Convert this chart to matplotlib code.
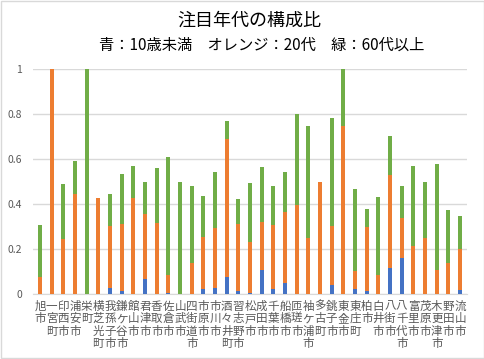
import matplotlib
matplotlib.use("Agg")
import matplotlib.pyplot as plt
from matplotlib.patches import Rectangle
import numpy as np

plt.rcParams["font.family"] = ["Noto Sans CJK JP", "DejaVu Sans"]

cities = [
    "旭市", "一宮町", "印西市", "浦安市", "栄町", "横芝光町", "我孫子市", "鎌ケ谷市",
    "館山市", "君津市", "香取市", "佐倉市", "山武市", "四街道市", "市原市", "市川市",
    "酒々井町", "習志野市", "松戸市", "成田市", "千葉市", "船橋市", "匝瑳市", "袖ケ浦市",
    "多古町", "銚子市", "東金市", "東庄町", "柏市", "白井市", "八街市", "八千代市",
    "富里市", "茂原市", "木更津市", "野田市", "流山市",
]
# cumulative tops
blue_top = [0, 0, 0, 0, 0, 0, 0.027, 0.013, 0, 0.067, 0, 0.004, 0, 0, 0.022, 0.027,
            0.076, 0.013, 0.004, 0.107, 0.022, 0.049, 0, 0, 0, 0.04, 0, 0.022, 0.013,
            0, 0.116, 0.16, 0, 0, 0, 0, 0.018]
orange_top = [0.076, 1.0, 0.244, 0.446, 0, 0.428, 0.304, 0.313, 0.428, 0.357, 0.314, 0.084,
              0, 0.136, 0.253, 0.293, 0.689, 0.313, 0.233, 0.32, 0.307, 0.364, 0.396, 0.249,
              0.498, 0.304, 0.747, 0.102, 0.298, 0.084, 0.529, 0.338, 0.215, 0.249, 0.107,
              0.138, 0.2]
green_top = [0.308, 1.0, 0.489, 0.593, 1.0, 0.428, 0.444, 0.533, 0.569, 0.498, 0.56, 0.609,
             0.498, 0.48, 0.436, 0.542, 0.769, 0.422, 0.493, 0.564, 0.48, 0.542, 0.8, 0.747,
             0.498, 0.782, 1.0, 0.467, 0.378, 0.431, 0.702, 0.48, 0.569, 0.498, 0.578,
             0.373, 0.347]

blue = np.array(blue_top)
orange = np.array(orange_top) - blue
orange[orange < 0] = 0
green = np.array(green_top) - np.maximum(np.array(orange_top), blue)

fig = plt.figure(figsize=(4.85, 3.59), dpi=100)
ax = fig.add_axes([0.068, 0.181, 0.895, 0.627])

x = np.arange(len(cities))
w = 0.35
ax.bar(x, blue, w, color="#4472C4", zorder=3)
ax.bar(x, orange, w, bottom=blue, color="#ED7D31", zorder=3)
ax.bar(x, green, w, bottom=blue + orange, color="#70AD47", zorder=3)

ax.set_xlim(-0.6, len(cities) - 0.4)
ax.set_ylim(0, 1)
ax.set_yticks([0, 0.2, 0.4, 0.6, 0.8, 1])
ax.set_yticklabels(["0", "0.2", "0.4", "0.6", "0.8", "1"])
ax.set_xticks(x)
ax.set_xticklabels(["\n".join(c) for c in cities], linespacing=0.95)
ax.tick_params(axis="x", length=0, pad=4, labelsize=8.3, colors="#595959")
ax.tick_params(axis="y", length=0, pad=8, labelsize=7.5, colors="#595959")
ax.grid(axis="y", color="#D9D9D9", linewidth=1, zorder=0)
for s in ["top", "right", "left"]:
    ax.spines[s].set_visible(False)
ax.spines["bottom"].set_color("#D9D9D9")

fig.text(0.515, 0.942, "注目年代の構成比", ha="center", va="center", fontsize=13, color="#000000")
fig.text(0.54, 0.873, "青：10歳未満　オレンジ：20代　緑：60代以上", ha="center", va="center",
         fontsize=11, color="#000000")

fig.patches.append(Rectangle((0.002, 0.004), 0.996, 0.992, transform=fig.transFigure,
                             fill=False, edgecolor="#D9D9D9", linewidth=1))

fig.savefig("out.png", dpi=100)
